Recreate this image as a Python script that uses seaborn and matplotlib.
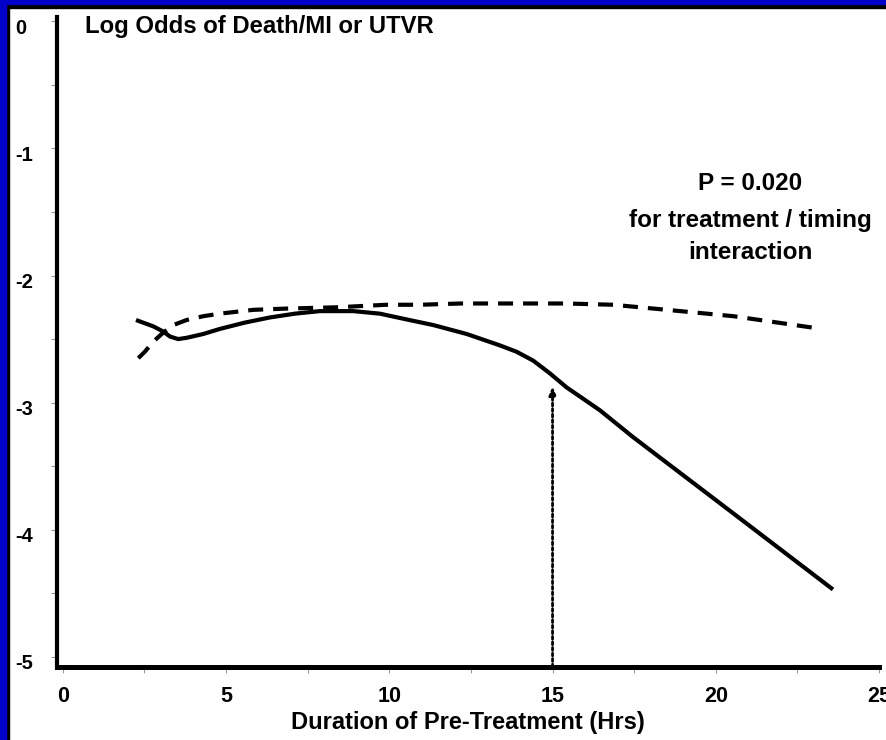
import matplotlib
matplotlib.use("Agg")
import matplotlib.pyplot as plt
from matplotlib.patches import Rectangle
from matplotlib.ticker import MultipleLocator
from matplotlib.transforms import ScaledTranslation
import seaborn as sns
import pandas as pd

# ---- data ----
solid_x = [2.24, 2.77, 3.07, 3.28, 3.53, 3.79, 4.30, 4.81, 5.58, 6.34, 7.11, 7.87, 8.89, 9.71, 10.43,
           11.35, 12.37, 13.39, 13.90, 14.41, 14.92, 15.43, 16.45, 17.46, 20.53, 23.59]
solid_y = [-2.35, -2.40, -2.44, -2.48, -2.50, -2.49, -2.46, -2.42, -2.37, -2.33, -2.30, -2.28, -2.28, -2.30, -2.34,
           -2.39, -2.46, -2.55, -2.60, -2.67, -2.77, -2.88, -3.06, -3.27, -3.87, -4.47]
dash_x = [2.31, 2.51, 2.77, 3.07, 3.38, 3.79, 4.30, 4.81, 5.83, 6.85, 8.39, 9.91, 10.94, 12.2,
          13.39, 15.43, 16.86, 18.50, 20.54, 23.24]
dash_y = [-2.65, -2.60, -2.52, -2.45, -2.39, -2.35, -2.32, -2.30, -2.27, -2.26, -2.25, -2.23, -2.23, -2.22,
          -2.22, -2.22, -2.23, -2.27, -2.32, -2.42]
series_names = ["solid", "dashed"]
x_ticks = [0, 5, 10, 15, 20, 25]
y_ticks = [0, -1, -2, -3, -4, -5]
arrow_x = 15
arrow_tip_y = -2.87
title_text = "Log Odds of Death/MI or UTVR"
x_label = "Duration of Pre-Treatment (Hrs)"
annot_lines = ["P = 0.020", "for treatment / timing", "interaction"]

df = pd.concat([
    pd.DataFrame({"x": solid_x, "y": solid_y, "grp": series_names[0]}),
    pd.DataFrame({"x": dash_x, "y": dash_y, "grp": series_names[1]}),
])

sns.set_style("white")
plt.rcParams["font.family"] = ["Liberation Sans", "DejaVu Sans"]
plt.rcParams["font.weight"] = "bold"
plt.rcParams["text.color"] = "black"

fig = plt.figure(figsize=(8.87, 7.4), dpi=100)
fig.patch.set_facecolor("white")
ax = fig.add_axes([57 / 887, 1 - 667 / 740, (879 - 57) / 887, (667 - 17) / 740])

sns.lineplot(data=df, x="x", y="y", hue="grp", style="grp",
             palette={"solid": "black", "dashed": "black"},
             dashes={"solid": "", "dashed": (3.6, 2.4)},
             linewidth=3.0, legend=False, sort=False, estimator=None, ax=ax)
for ln in ax.get_lines():
    ln.set_solid_joinstyle("round")
    ln.set_solid_capstyle("butt")

ax.annotate("", xy=(arrow_x, arrow_tip_y), xytext=(arrow_x, -5.08),
            arrowprops=dict(arrowstyle="-|>,head_length=0.5,head_width=0.2",
                            linestyle=(0, (1.0, 1.0)), lw=2.0, color="black",
                            shrinkA=0, shrinkB=0))

ax.set_xlim(-0.18, 25.0)
ax.set_ylim(-5.08, 0.034)
ax.set_xticks(x_ticks)
ax.set_yticks(y_ticks)
ax.xaxis.set_minor_locator(MultipleLocator(2.5))
ax.yaxis.set_minor_locator(MultipleLocator(0.5))
ax.set_xticklabels([str(v) for v in x_ticks], fontsize=15.5, fontweight="bold")
ax.set_yticklabels([str(v) for v in y_ticks], fontsize=14.5, fontweight="bold", ha="left")
ax.tick_params(axis="x", which="both", direction="out", length=4, width=0.8, color="#999999",
               labelcolor="black", pad=10, bottom=True)
ax.tick_params(axis="y", which="both", direction="out", length=4, width=0.8, color="#999999",
               labelcolor="black", pad=26, left=True)
for lab in ax.get_yticklabels():
    lab.set_transform(lab.get_transform() + ScaledTranslation(0, -5 / 100, fig.dpi_scale_trans))
ax.set_xlabel("")
ax.set_ylabel("")

for s in ["top", "right"]:
    ax.spines[s].set_visible(False)
ax.spines["left"].set_linewidth(3.0)
ax.spines["bottom"].set_linewidth(3.6)
ax.spines["left"].set_color("black")
ax.spines["bottom"].set_color("black")
ax.set_facecolor("white")

fig.text(468 / 887, 1 - 722 / 740, x_label, fontsize=17, fontweight="bold", ha="center", va="center", color="black")
fig.text(85 / 887, 1 - 26 / 740, title_text, fontsize=17.2, fontweight="bold", ha="left", va="center", color="black")
ys = [183, 221, 253]
for t, yy in zip(annot_lines, ys):
    fig.text(750 / 887, 1 - yy / 740, t, fontsize=17.5, fontweight="bold", ha="center", va="center", color="black")

# blue frame at top and left
fig.add_artist(Rectangle((0, 1 - 4 / 740), 1, 4 / 740, transform=fig.transFigure, color="#0000C8", zorder=10))
fig.add_artist(Rectangle((0, 1 - 8 / 740), 1, 4 / 740, transform=fig.transFigure, color="black", zorder=9))
fig.add_artist(Rectangle((0, 0), 6 / 887, 1, transform=fig.transFigure, color="#0000C8", zorder=10))
fig.add_artist(Rectangle((6 / 887, 0), 3 / 887, 1 - 4 / 740, transform=fig.transFigure, color="black", zorder=9))

fig.savefig("out.png", dpi=100)
